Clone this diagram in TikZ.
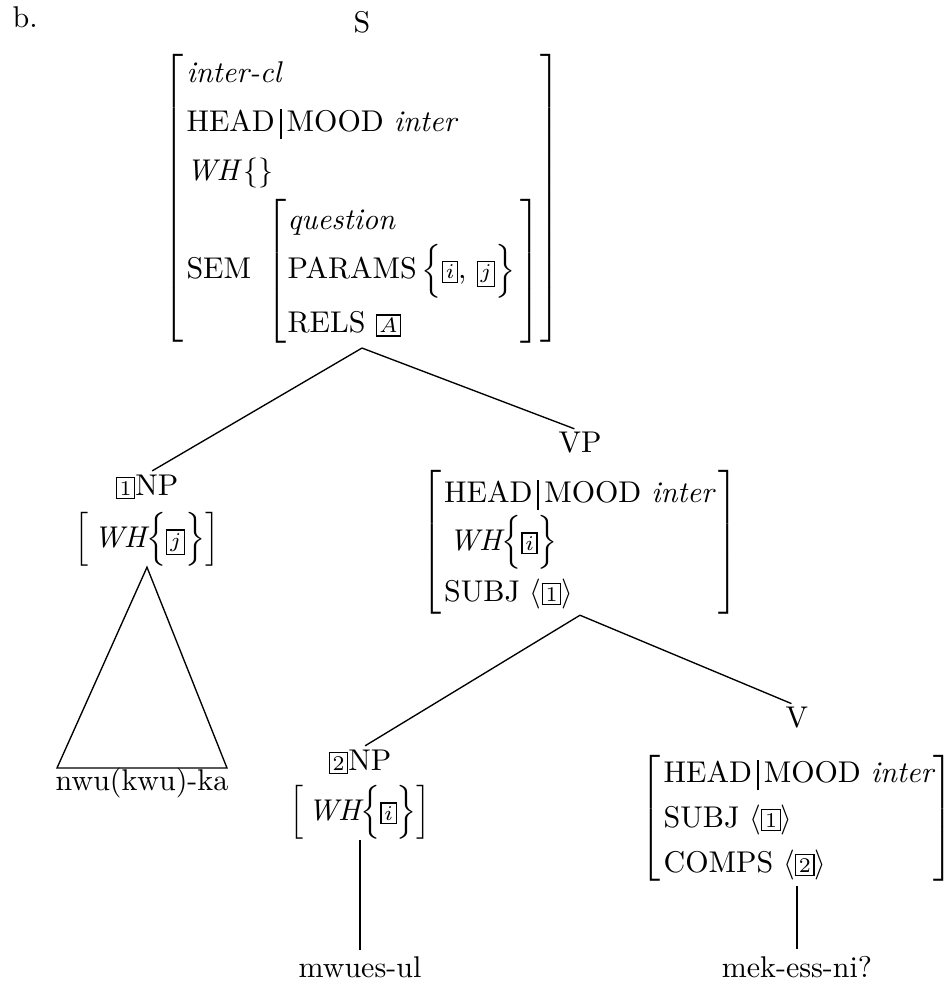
\documentclass[tikz,border=0pt]{standalone}
\usepackage{amsmath}
\newcommand{\tg}[1]{{\setlength{\fboxsep}{0.9pt}\setlength{\fboxrule}{0.4pt}\fbox{\scriptsize #1}}}
\newcommand{\tgi}[1]{\tg{$#1$}}
\newcommand{\hdbar}{\,\rule[-2.5pt]{0.6pt}{10pt}\,}
\tikzset{
  lbl/.style={inner sep=0pt},
  avm/.style={inner sep=0pt,execute at begin node={\renewcommand{\arraystretch}{1.25}}},
  bigavm/.style={inner sep=0pt,execute at begin node={\renewcommand{\arraystretch}{1.36}}},
  edge/.style={line width=0.45pt,shorten >=2pt}
}
\begin{document}
\begin{tikzpicture}[x=0.3333pt,y=-0.3333pt]
\useasboundingbox (0,0) rectangle (952,987);
\node[lbl,anchor=base west] (ex) at (12,27) {b.};
\node[lbl,anchor=base] (s) at (362,32) {S};
\node[bigavm,anchor=north] (sfs) at (362,48) {$\left[\begin{array}{@{\hspace{1pt}}l@{}}
 \textit{inter-cl}\\
 \text{HEAD}\hdbar\text{MOOD}\ \textit{inter}\\
 \textit{WH}\,\{\}\\
 \text{SEM}\ \left[\begin{array}{@{\hspace{0.5pt}}l@{\,}}
   \textit{question}\\
   \text{PARAMS}\,\Big\{\text{\tgi{i}, \tgi{j}}\Big\}\\
   \text{RELS}\ \tgi{A}
 \end{array}\right]
\end{array}\right]$};
% NP 1
\node[lbl,anchor=base] (np1) at (147,495) {\tg{1}NP};
\node[avm,anchor=north] (np1fs) at (147,512) {$\left[\,\textit{WH}\Big\{\tgi{j}\Big\}\right]$};
\coordinate (t1l) at (57,768);
\coordinate (t1r) at (227,768);
\node[lbl,anchor=base] (w1) at (142,790) {nwu(kwu)-ka};
% VP
\node[lbl,anchor=base] (vp) at (580,452) {VP};
\node[avm,anchor=north] (vpfs) at (580,470) {$\left[\begin{array}{@{\hspace{1pt}}l@{}}
 \text{HEAD}\hdbar\text{MOOD}\ \textit{inter}\\
 \,\textit{WH}\Big\{\tgi{i}\Big\}\\
 \text{SUBJ}\ \langle\tg{1}\rangle
\end{array}\,\right]$};
% NP 2
\node[lbl,anchor=base] (np2) at (360,770) {\tg{2}NP};
\node[avm,anchor=north] (np2fs) at (360,785) {$\left[\,\textit{WH}\Big\{\tgi{i}\Big\}\right]$};
\node[lbl,anchor=base] (w2) at (360,977) {mwues-ul};
% V
\node[lbl,anchor=base] (v) at (797,727) {V};
\node[avm,anchor=north] (vfs) at (797,750) {$\left[\begin{array}{@{\hspace{1pt}}l@{}}
 \text{HEAD}\hdbar\text{MOOD}\ \textit{inter}\\
 \text{SUBJ}\ \langle\tg{1}\rangle\\
 \text{COMPS}\ \langle\tg{2}\rangle
\end{array}\right]$};
\node[lbl,anchor=base] (w3) at (797,977) {mek-ess-ni?};
% edges
\draw[edge] (sfs.south) -- (np1.north);
\draw[edge] (sfs.south) -- (vp.north);
\draw[edge,shorten >=0pt] (np1fs.south) -- (t1l) -- (t1r) -- cycle;
\draw[edge] (vpfs.south) -- (np2.north);
\draw[edge] (vpfs.south) -- (v.north);
\draw[edge] (np2fs.south) -- (w2.north);
\draw[edge] (vfs.south) -- (w3.north);
\end{tikzpicture}
\end{document}
